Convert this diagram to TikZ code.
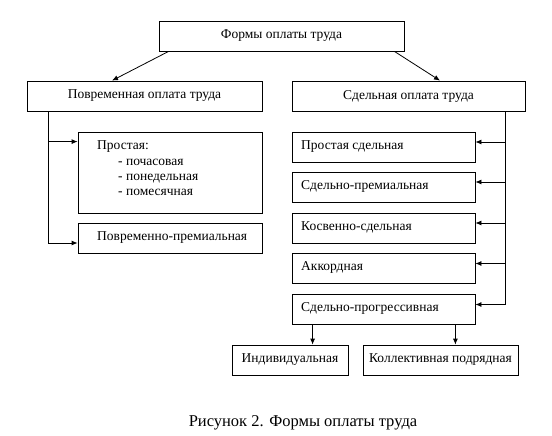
\documentclass[tikz,border=0pt]{standalone}
\usepackage{fontspec}
\setmainfont{Liberation Serif}
\usetikzlibrary{arrows.meta}
\begin{document}
\begin{tikzpicture}[x=1pt,y=-1pt,
  box/.style={draw, line width=0.8pt, inner sep=0pt, font=\fontsize{13.5}{15}\selectfont},
  conn/.style={line width=0.8pt, -{Latex[length=6pt,width=5pt]}},
  txt/.style={inner sep=0pt, font=\fontsize{13.5}{15}\selectfont, anchor=base west}]
\useasboundingbox (0,0) rectangle (552,436);
\fill[white] (0,0) rectangle (552,436);
% top
\node[box, minimum width=245pt, minimum height=30pt] (top) at (281.5,36) {Формы оплаты труда};
\node[box, minimum width=235pt, minimum height=30pt] (left) at (144.5,96) {Повременная оплата труда};
\node[box, minimum width=233pt, minimum height=30pt] (right) at (408.5,96) {Сдельная оплата труда};
\draw[conn] ([xshift=10pt]top.south west) -- ([xshift=-32.5pt]left.north);
\draw[conn] ([xshift=-10pt]top.south east) -- ([xshift=31.5pt]right.north);
% left column
\node[box, minimum width=184pt, minimum height=81pt] (prost) at (170,172.5) {};
\node[txt] (prostT) at (97,149.5) {Простая:};
\node[txt] (p1) at (118,165) {- почасовая};
\node[txt] (p2) at (118,180) {- понедельная};
\node[txt] (p3) at (118,195) {- помесячная};
\node[box, minimum width=184pt, minimum height=30pt] (pp) at (170,238) {};
\node[txt] (ppT) at (97,240) {Повременно-премиальная};
\draw[conn] ([xshift=22pt]left.south west) |- ([yshift=-10pt]prost.north west);
\draw[conn] ([xshift=22pt]left.south west) |- ([yshift=-5pt]pp.west);
% right column
\node[box, minimum width=183pt, minimum height=30pt] (b1) at (383.5,147) {};
\node[box, minimum width=183pt, minimum height=30pt] (b2) at (383.5,187) {};
\node[box, minimum width=183pt, minimum height=30pt] (b3) at (383.5,228) {};
\node[box, minimum width=183pt, minimum height=30pt] (b4) at (383.5,268.5) {};
\node[box, minimum width=183pt, minimum height=30pt] (b5) at (383.5,309.5) {};
\node[txt] (t1) at (301,149) {Простая сдельная};
\node[txt] (t2) at (301,189) {Сдельно-премиальная};
\node[txt] (t3) at (301,230) {Косвенно-сдельная};
\node[txt] (t4) at (301,270.5) {Аккордная};
\node[txt] (t5) at (301,311) {Сдельно-прогрессивная};
\foreach \b in {b1,b2,b3,b4,b5}
  \draw[conn] ([xshift=-20pt]right.south east) |- ([yshift=5pt]\b.east);
% bottom
\node[box, minimum width=116pt, minimum height=30pt] (ind) at (290,360) {Индивидуальная};
\node[box, minimum width=155pt, minimum height=30pt] (kol) at (440.5,360) {Коллективная подрядная};
\draw[conn] ([xshift=21pt]b5.south west) -- ([xshift=21pt]b5.south west |- ind.north);
\draw[conn] ([xshift=-20pt]b5.south east) -- ([xshift=-20pt]b5.south east |- kol.north);
% caption
\node[inner sep=0pt, font=\fontsize{16.5}{18}\selectfont] (cap) at (303,423) {Рисунок 2. Формы оплаты труда};
\end{tikzpicture}
\end{document}
